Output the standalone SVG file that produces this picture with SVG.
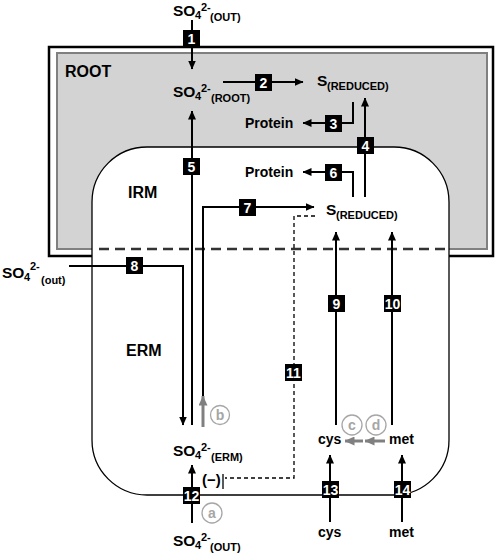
<svg xmlns="http://www.w3.org/2000/svg" width="498" height="555" viewBox="0 0 498 555">
<defs>
<marker id="ah" markerUnits="userSpaceOnUse" markerWidth="9" markerHeight="8" refX="8.5" refY="4" orient="auto"><path d="M0,0 L9,4 L0,8 z" fill="#000"/></marker>
<marker id="ahg" markerUnits="userSpaceOnUse" markerWidth="10" markerHeight="9" refX="9.5" refY="4.5" orient="auto"><path d="M0,0 L10,4.5 L0,9 z" fill="#808080"/></marker>
</defs>
<style>
text{font-family:"Liberation Sans",Arial,sans-serif;font-weight:bold;fill:#000}
.big{font-size:15.5px}
.sub{font-size:11px}
.reg{font-size:16px}
.prot{font-size:14px}
.num{font-size:14px;fill:#fff;text-anchor:middle}
.box{fill:#000}
.ln{stroke:#000;stroke-width:2;fill:none;marker-end:url(#ah)}
.gray{stroke:#808080;stroke-width:3;fill:none;marker-end:url(#ahg)}
.circ{fill:#fff;stroke:#a6a6a6;stroke-width:1.3}
.ctext{fill:#a6a6a6;font-size:14px;text-anchor:middle}
</style>
<rect x="0" y="0" width="498" height="555" fill="#fff"/>
<g id="root">
<rect x="49" y="47" width="444" height="209" fill="#fff" stroke="#000" stroke-width="2.5"/>
<rect x="57" y="53" width="430" height="196" fill="#d3d3d3" stroke="#808080" stroke-width="2"/>
<text class="reg" x="65" y="77">ROOT</text>
</g>
<g id="fungus">
<rect x="92" y="147" width="357" height="348" rx="55" ry="55" fill="#fff" stroke="#000" stroke-width="1.3"/>
<line x1="99" y1="249" x2="449" y2="249" stroke="#333" stroke-width="2.5" stroke-dasharray="10,6"/>
<text class="reg" x="128" y="198">IRM</text>
<text class="reg" x="126" y="356">ERM</text>
</g>
<g id="so4-out-top">
<text class="big" x="173" y="16">SO</text><text class="sub" x="195" y="19">4</text><text class="sub" x="201" y="11">2-</text><text class="sub" x="210" y="21">(OUT)</text>
</g>
<g id="so4-root">
<text class="big" x="173" y="97">SO</text><text class="sub" x="195" y="100">4</text><text class="sub" x="201" y="92">2-</text><text class="sub" x="211" y="102">(ROOT)</text>
</g>
<g id="s-reduced-root">
<text class="big" x="317" y="86">S</text><text class="sub" x="327" y="90">(REDUCED)</text>
</g>
<g id="protein-root"><text class="prot" x="245" y="128">Protein</text></g>
<g id="protein-irm"><text class="prot" x="245" y="177">Protein</text></g>
<g id="s-reduced-irm">
<text class="big" x="326" y="215">S</text><text class="sub" x="336" y="219">(REDUCED)</text>
</g>
<g id="so4-out-left">
<text class="big" x="2" y="278">SO</text><text class="sub" x="24" y="281">4</text><text class="sub" x="30" y="270">2-</text><text class="sub" x="41" y="284">(out)</text>
</g>
<g id="so4-erm">
<text class="big" x="173" y="456">SO</text><text class="sub" x="195" y="459">4</text><text class="sub" x="201" y="451">2-</text><text class="sub" x="211" y="461">(ERM)</text>
</g>
<g id="cys-erm"><text class="prot" x="318" y="444">cys</text></g>
<g id="met-erm"><text class="prot" x="389" y="444">met</text></g>
<g id="so4-out-bottom">
<text class="big" x="173" y="546">SO</text><text class="sub" x="195" y="549">4</text><text class="sub" x="201" y="541">2-</text><text class="sub" x="210" y="551">(OUT)</text>
</g>
<g id="cys-out"><text class="prot" x="318" y="537">cys</text></g>
<g id="met-out"><text class="prot" x="389" y="537">met</text></g>
<g id="connectors">
<path class="ln" d="M192,20 V69"/>
<path class="ln" d="M223,82 H303"/>
<path class="ln" d="M353,102 V123 H303"/>
<path class="ln" d="M365,197 V98"/>
<path class="ln" d="M192,425 V111"/>
<path class="ln" d="M353,197 V172 H303"/>
<path class="ln" d="M203,399 V207 H314"/>
<path class="gray" d="M203,427 V396"/>
<path class="ln" d="M69,266 H183 V425"/>
<path class="ln" d="M336,425 V232"/>
<path class="ln" d="M392,425 V232"/>
<path d="M315,216 H294 V478 H225" fill="none" stroke="#000" stroke-width="1.3" stroke-dasharray="4,3"/>
<path d="M223,474 V489" stroke="#000" stroke-width="1.3"/>
<text x="202" y="485" style="font-size:15px">(−)</text>
<path class="ln" d="M192,523 V465"/>
<path class="ln" d="M330,522 V455"/>
<path class="ln" d="M402,522 V455"/>
<path class="gray" d="M363,441 H345"/>
<path class="gray" d="M385,441 H365"/>
<circle class="circ" cx="212" cy="513" r="10"/><text class="ctext" x="212" y="518">a</text>
<circle class="circ" cx="220" cy="415" r="9.5"/><text class="ctext" x="220" y="420">b</text>
<circle class="circ" cx="352" cy="425" r="10"/><text class="ctext" x="352" y="430">c</text>
<circle class="circ" cx="376" cy="425" r="10"/><text class="ctext" x="376" y="430">d</text>
<rect class="box" x="183" y="30" width="17" height="17"/><text class="num" x="191.5" y="43.5">1</text>
<rect class="box" x="255" y="74" width="17" height="17"/><text class="num" x="263.5" y="87.5">2</text>
<rect class="box" x="325" y="115" width="17" height="17"/><text class="num" x="333.5" y="128.5">3</text>
<rect class="box" x="357" y="137" width="17" height="17"/><text class="num" x="365.5" y="150.5">4</text>
<rect class="box" x="183" y="158" width="17" height="17"/><text class="num" x="191.5" y="171.5">5</text>
<rect class="box" x="325" y="164" width="17" height="17"/><text class="num" x="333.5" y="177.5">6</text>
<rect class="box" x="239" y="199" width="17" height="17"/><text class="num" x="247.5" y="212.5">7</text>
<rect class="box" x="126" y="257" width="17" height="17"/><text class="num" x="134.5" y="270.5">8</text>
<rect class="box" x="328" y="295" width="17" height="17"/><text class="num" x="336.5" y="308.5">9</text>
<rect class="box" x="384" y="295" width="17" height="17"/><text class="num" x="392.5" y="308.5">10</text>
<rect class="box" x="285" y="364" width="17" height="17"/><text class="num" x="293.5" y="377.5">11</text>
<rect class="box" x="183" y="487" width="17" height="17"/><text class="num" x="191.5" y="500.5">12</text>
<rect class="box" x="322" y="481" width="17" height="17"/><text class="num" x="330.5" y="494.5">13</text>
<rect class="box" x="394" y="481" width="17" height="17"/><text class="num" x="402.5" y="494.5">14</text>
</g>
</svg>
